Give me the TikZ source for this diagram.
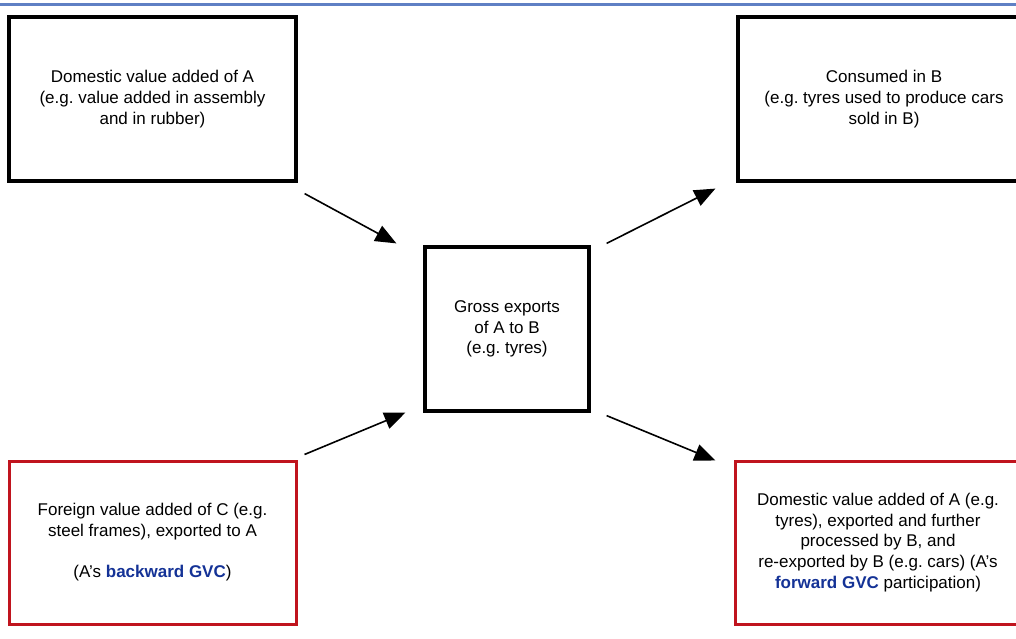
\documentclass[tikz,border=0pt]{standalone}
\usepackage{fontspec}
\setmainfont{Liberation Sans}
\usetikzlibrary{arrows.meta,calc}
\definecolor{topblue}{RGB}{95,128,196}
\definecolor{boxred}{RGB}{192,20,30}
\definecolor{gvcblue}{RGB}{20,50,150}
\frenchspacing
\tikzset{
  txt/.style={align=center,font=\fontsize{17}{20.7}\selectfont,inner sep=0pt},
  blackbox/.style={txt,draw=black,line width=3.2pt},
  redbox/.style={txt,draw=boxred,line width=3pt},
  flow/.style={-{Triangle[length=21pt,width=17pt]},line width=1.6pt},
}
\newcommand{\gvc}[1]{\textcolor{gvcblue}{\textbf{#1}}}
\begin{document}
\begin{tikzpicture}[x=1pt,y=-1pt]
\useasboundingbox (0,0) rectangle (1016,639);
\clip (0,0) rectangle (1016,639);
\draw[topblue,line width=3pt] (0,5) -- (1016,5);
\node[blackbox,minimum width=287pt,minimum height=164pt] (tl) at (152.5,99)
  {Domestic value added of A\\(e.g. value added in assembly\\and in rubber)};
\node[blackbox,minimum width=292pt,minimum height=164pt] (tr) at (884,99)
  {Consumed in B\\(e.g. tyres used to produce cars\\sold in B)};
\node[blackbox,minimum width=164pt,minimum height=164pt] (ctr) at (507,329)
  {Gross exports\\of A to B\\(e.g. tyres)};
\node[redbox,minimum width=287pt,minimum height=163pt] (bl) at (152.5,542.5)
  {Foreign value added of C (e.g.\\steel frames), exported to A\\[20.7pt](A's \gvc{backward GVC})};
\node[redbox,minimum width=286pt,minimum height=163pt] (br) at (878,542.5)
  {Domestic value added of A (e.g.\\tyres), exported and further\\processed by B, and\\re-exported by B (e.g. cars) (A's\\\gvc{forward GVC} participation)};
\draw[flow] ($(tl.south east)+(7,11)$) -- ($(ctr.north west)+(-27,-2)$);
\draw[flow] ($(bl.north east)+(7,-5)$) -- ($(ctr.south west)+(-18,0)$);
\draw[flow] ($(ctr.north east)+(16,-2)$) -- ($(tr.south west)+(-21,6)$);
\draw[flow] ($(ctr.south east)+(16,3)$) -- ($(br.north west)+(-18,1)$);
\end{tikzpicture}
\end{document}
